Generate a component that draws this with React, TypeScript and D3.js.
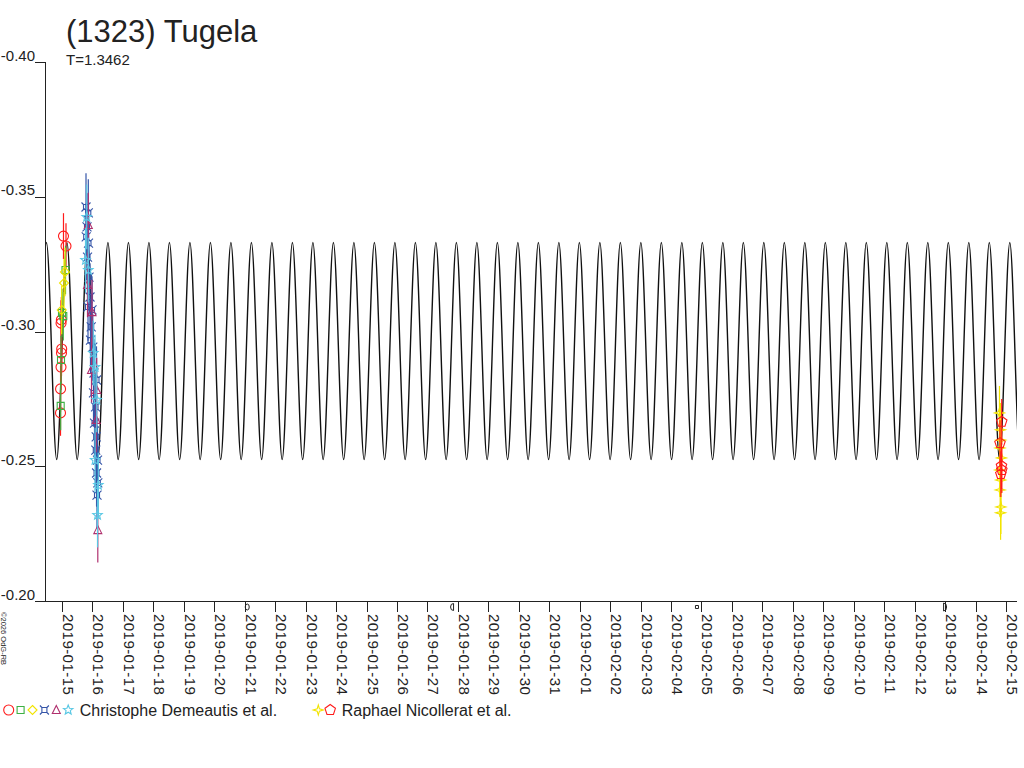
import React, { useEffect, useRef } from 'react';
import * as d3 from 'd3';

type Obs = [string, number];

const TITLE = "(1323) Tugela";
const PERIOD_LABEL = "T=1.3462";
const COPYRIGHT = "©2026 OdG-RB";

// model lightcurve: period from the label (double-peaked), levels and phase
const PERIOD_DAYS = 1.3462;
const MODEL_EPOCH = "2019-01-14 19:49"; // a faint extremum
const MODEL_FAINT = -0.2525;
const MODEL_BRIGHT = -0.3330;
const MODEL_START = "2019-01-14 11:23";
const MODEL_END = "2019-02-15 08:43";

const X_FIRST_DAY = "2019-01-15 00:00";
const X_LAST_DAY = "2019-02-15 00:00";
const Y_TICKS = [-0.40, -0.35, -0.30, -0.25, -0.20];

const MOON_PHASES = [
  { date: "2019-01-21 02:00", phase: "full" },
  { date: "2019-01-27 19:25", phase: "last" },
  { date: "2019-02-04 20:26", phase: "new" },
  { date: "2019-02-13 00:00", phase: "first" },
];

// Christophe Demeautis et al.
const DEM_CIRCLE: Obs[] = [
  ["2019-01-14 22:49", -0.2698], ["2019-01-14 22:52", -0.2787], ["2019-01-14 23:13", -0.2868],
  ["2019-01-14 23:36", -0.2920], ["2019-01-14 23:46", -0.2935], ["2019-01-14 23:15", -0.3031],
  ["2019-01-14 23:29", -0.3043], ["2019-01-15 01:10", -0.3354], ["2019-01-15 03:09", -0.3317],
];
const DEM_SQUARE: Obs[] = [
  ["2019-01-14 22:58", -0.2724], ["2019-01-14 23:13", -0.2894], ["2019-01-15 00:00", -0.3069],
  ["2019-01-15 01:01", -0.3057], ["2019-01-15 02:46", -0.3228],
];
const DEM_DIAMOND: Obs[] = [
  ["2019-01-14 23:46", -0.3080], ["2019-01-15 01:35", -0.3180], ["2019-01-15 02:22", -0.3221],
];
const DEM_XSQUARE: Obs[] = [
  ["2019-01-15 18:55", -0.3462], ["2019-01-15 20:44", -0.3440], ["2019-01-15 19:42", -0.3388],
  ["2019-01-15 19:04", -0.3351], ["2019-01-15 20:53", -0.3328], ["2019-01-15 20:06", -0.3276],
  ["2019-01-15 21:17", -0.3202], ["2019-01-15 22:04", -0.3128], ["2019-01-15 20:30", -0.3091],
  ["2019-01-15 23:39", -0.3080], ["2019-01-15 23:01", -0.3017], ["2019-01-15 22:28", -0.2968],
  ["2019-01-16 00:16", -0.2942], ["2019-01-16 01:13", -0.2846], ["2019-01-16 03:11", -0.2820],
  ["2019-01-16 00:50", -0.2772], ["2019-01-16 02:25", -0.2720], ["2019-01-16 01:37", -0.2660],
  ["2019-01-16 02:57", -0.2609], ["2019-01-16 02:38", -0.2560], ["2019-01-16 03:59", -0.2523],
  ["2019-01-16 03:14", -0.2475], ["2019-01-16 04:13", -0.2438], ["2019-01-16 03:35", -0.2393],
];
const DEM_TRIANGLE: Obs[] = [
  ["2019-01-15 20:44", -0.3395], ["2019-01-15 20:06", -0.3173], ["2019-01-15 23:39", -0.3072],
  ["2019-01-15 23:15", -0.2857], ["2019-01-16 03:21", -0.2783], ["2019-01-16 02:57", -0.2672],
  ["2019-01-16 04:13", -0.2263],
];
const DEM_STAR: Obs[] = [
  ["2019-01-15 19:28", -0.3425], ["2019-01-15 18:31", -0.3265], ["2019-01-15 20:44", -0.3228],
  ["2019-01-16 00:40", -0.2920], ["2019-01-16 02:01", -0.2868], ["2019-01-16 03:21", -0.2746],
  ["2019-01-16 02:05", -0.2523], ["2019-01-16 04:37", -0.2430], ["2019-01-16 03:59", -0.2319],
];

// Raphael Nicollerat et al.
const NIC_STAR4: Obs[] = [
  ["2019-02-14 18:52", -0.2698], ["2019-02-14 19:39", -0.2635], ["2019-02-14 19:53", -0.2597],
  ["2019-02-14 19:16", -0.2568], ["2019-02-14 20:26", -0.2531], ["2019-02-14 19:07", -0.2486],
  ["2019-02-14 19:49", -0.2449], ["2019-02-14 19:25", -0.2412], ["2019-02-14 19:58", -0.2349],
  ["2019-02-14 19:44", -0.2327],
];
const NIC_PENTAGON: Obs[] = [
  ["2019-02-14 20:38", -0.2665], ["2019-02-14 19:16", -0.2586], ["2019-02-14 20:26", -0.2501],
  ["2019-02-14 20:42", -0.2486], ["2019-02-14 19:55", -0.2471],
];

const RED = "#ff1a1a";
const GREEN = "#3cb043";
const YELLOW = "#f2e400";
const BLUE = "#3555a8";
const MAGENTA = "#b0306e";
const CYAN = "#5ac8e4";

const SERIES = [
  { data: DEM_CIRCLE, symbol: "circle", color: RED, err: 0.0085 },
  { data: DEM_SQUARE, symbol: "square", color: GREEN, err: 0.009 },
  { data: DEM_DIAMOND, symbol: "diamond", color: YELLOW, err: 0.009 },
  { data: DEM_XSQUARE, symbol: "xsquare", color: BLUE, err: 0.0125 },
  { data: DEM_TRIANGLE, symbol: "triangle", color: MAGENTA, err: 0.012 },
  { data: DEM_STAR, symbol: "star", color: CYAN, err: 0.012 },
  { data: NIC_STAR4, symbol: "star4", color: YELLOW, err: 0.01 },
  { data: NIC_PENTAGON, symbol: "pentagon", color: RED, err: 0.0085 },
];

const LEGEND = [
  { label: "Christophe Demeautis et al.", symbols: ["circle", "square", "diamond", "xsquare", "triangle", "star"], colors: [RED, GREEN, YELLOW, BLUE, MAGENTA, CYAN] },
  { label: "Raphael Nicollerat et al.", symbols: ["star4", "pentagon"], colors: [YELLOW, RED] },
];

const FONT = "'Liberation Sans', Arial, sans-serif";

const polygon = (n: number, rOut: number, rIn?: number) => {
  const pts: string[] = [];
  const count = rIn ? n * 2 : n;
  for (let i = 0; i < count; i++) {
    const r = rIn && i % 2 === 1 ? rIn : rOut;
    const a = -Math.PI / 2 + (i * 2 * Math.PI) / count;
    pts.push(`${(r * Math.cos(a)).toFixed(2)},${(r * Math.sin(a)).toFixed(2)}`);
  }
  return `M${pts.join("L")}Z`;
};

const symbolPath = (kind: string): string => {
  switch (kind) {
    case "circle": return "M5,0A5,5 0 1,1 -5,0A5,5 0 1,1 5,0Z";
    case "square": return "M-3.5,-3.5H3.5V3.5H-3.5Z";
    case "diamond": return "M0,-4.5L4.5,0L0,4.5L-4.5,0Z";
    case "xsquare": return "M-2.5,-2.5H2.5V2.5H-2.5Z M-2.5,-2.5L-4.5,-4.5 M2.5,-2.5L4.5,-4.5 M2.5,2.5L4.5,4.5 M-2.5,2.5L-4.5,4.5";
    case "triangle": return "M0,-4.5L4,3.5L-4,3.5Z";
    case "star": return polygon(5, 5, 2.2);
    case "star4": return polygon(4, 5, 1.6);
    case "pentagon": return polygon(5, 5.5);
    default: return "";
  }
};

const moonPath = (phase: string): string => {
  switch (phase) {
    case "full": return "M2,0A2,3 0 1,1 -2,0A2,3 0 1,1 2,0Z";
    case "new": return "M-1.5,-1.5H1.5V1.5H-1.5Z";
    case "last": return "M1.5,-3.5V3.5A3,3.5 0 0,1 1.5,-3.5Z";
    case "first": return "M-1.5,-4V4A3,4 0 0,0 -1.5,-4Z";
    default: return "";
  }
};

const App: React.FC = () => {
  const svgRef = useRef<SVGSVGElement>(null);

  useEffect(() => {
    if (!svgRef.current) return;
    const svg = d3.select(svgRef.current);
    svg.selectAll("*").remove();

    const parse = d3.utcParse("%Y-%m-%d %H:%M");
    const t = (s: string) => parse(s) as Date;

    const x = d3.scaleUtc().domain([t(X_FIRST_DAY), t(X_LAST_DAY)]).range([62, 1006]);
    const y = d3.scaleLinear().domain([-0.40, -0.20]).range([62, 601]);
    const axisLeft = 45;
    const axisY = 601;

    svg.append("rect").attr("width", 1024).attr("height", 768).attr("fill", "#fff");

    // title
    svg.append("text").attr("x", 66).attr("y", 42).attr("font-family", FONT)
      .attr("font-size", 31).attr("fill", "#222").text(TITLE);
    svg.append("text").attr("x", 66).attr("y", 65).attr("font-family", FONT)
      .attr("font-size", 15).attr("fill", "#222").text(PERIOD_LABEL);

    // model curve through alternating extrema (two maxima per rotation)
    const epoch = +t(MODEL_EPOCH);
    const quarter = (PERIOD_DAYS / 4) * 864e5;
    const start = t(MODEL_START), end = t(MODEL_END);
    const k0 = Math.floor((+start - epoch) / quarter) - 1;
    const k1 = Math.ceil((+end - epoch) / quarter) + 1;
    const extrema: [Date, number][] = d3.range(k0, k1 + 1).map(k => [
      new Date(epoch + k * quarter), Math.abs(k) % 2 === 0 ? MODEL_FAINT : MODEL_BRIGHT,
    ]);
    svg.append("clipPath").attr("id", "modelClip").append("rect")
      .attr("x", x(start)).attr("y", 0).attr("width", x(end) - x(start)).attr("height", 768);
    const line = d3.line<[Date, number]>().x(d => x(d[0])).y(d => y(d[1])).curve(d3.curveMonotoneX);
    svg.append("path").attr("d", line(extrema) as string).attr("clip-path", "url(#modelClip)")
      .attr("fill", "none").attr("stroke", "#111").attr("stroke-width", 1.4);

    // axes
    const yAxisG = svg.append("g").attr("transform", `translate(${axisLeft},0)`)
      .call(d3.axisLeft(y).tickValues(Y_TICKS).tickSize(10).tickFormat(d => (+d).toFixed(2)));
    yAxisG.select(".domain").remove();
    yAxisG.attr("font-family", FONT).attr("font-size", 15).attr("color", "#222");
    yAxisG.selectAll(".tick line").attr("shape-rendering", "crispEdges");
    yAxisG.selectAll(".tick text").attr("x", -10).attr("y", -2).attr("dy", 0);

    const xAxisG = svg.append("g").attr("transform", `translate(0,${axisY})`)
      .call(d3.axisBottom(x)
        .tickValues(d3.utcDay.range(t(X_FIRST_DAY), d3.utcDay.offset(t(X_LAST_DAY), 1)))
        .tickSize(11).tickSizeOuter(0)
        .tickFormat(d => d3.utcFormat("%Y-%m-%d")(d as Date)));
    xAxisG.select(".domain").remove();
    xAxisG.attr("font-family", FONT).attr("font-size", 15).attr("color", "#222");
    xAxisG.selectAll(".tick line").attr("shape-rendering", "crispEdges");
    xAxisG.selectAll(".tick text")
      .attr("transform", "rotate(90)").attr("text-anchor", "start")
      .attr("x", 13).attr("y", -0.5).attr("dy", 0).attr("letter-spacing", 0.45);

    svg.append("line").attr("x1", axisLeft + 0.5).attr("x2", axisLeft + 0.5)
      .attr("y1", y(-0.40)).attr("y2", axisY + 0.5).attr("stroke", "#222");
    svg.append("line").attr("x1", axisLeft).attr("x2", 1017)
      .attr("y1", axisY + 0.5).attr("y2", axisY + 0.5).attr("stroke", "#222");

    // moon phases on the axis
    svg.append("g").selectAll("path").data(MOON_PHASES).join("path")
      .attr("transform", d => `translate(${x(t(d.date))},${axisY + 6})`)
      .attr("d", d => moonPath(d.phase))
      .attr("fill", "none").attr("stroke", "#222").attr("stroke-width", 1);

    // observations: error bars then symbols
    const obs = svg.append("g");
    SERIES.forEach(s => {
      const g = obs.append("g");
      g.selectAll("line").data(s.data).join("line")
        .attr("x1", d => x(t(d[0]))).attr("x2", d => x(t(d[0])))
        .attr("y1", d => y(d[1] - s.err)).attr("y2", d => y(d[1] + s.err))
        .attr("stroke", s.color).attr("stroke-width", 1.2);
      g.selectAll("path").data(s.data).join("path")
        .attr("transform", d => `translate(${x(t(d[0]))},${y(d[1])})`)
        .attr("d", symbolPath(s.symbol))
        .attr("fill", "none").attr("stroke", s.color).attr("stroke-width", 1.1);
    });

    // legend
    const legendStarts = [8.7, 318.3];
    LEGEND.forEach((item, i) => {
      const g = svg.append("g");
      item.symbols.forEach((sym, j) => {
        g.append("path").attr("transform", `translate(${legendStarts[i] + j * 11.9},710)`)
          .attr("d", symbolPath(sym)).attr("fill", "none")
          .attr("stroke", item.colors[j]).attr("stroke-width", 1.1);
      });
      g.append("text")
        .attr("x", legendStarts[i] + (item.symbols.length - 1) * 11.9 + 11.5)
        .attr("y", 716).attr("font-family", FONT).attr("font-size", 16).attr("fill", "#222")
        .text(item.label);
    });

    // copyright
    svg.append("text").attr("transform", "translate(1,612) rotate(90)")
      .attr("font-family", FONT).attr("font-size", 7.5).attr("fill", "#222").text(COPYRIGHT);
  }, []);

  return (
    <svg ref={svgRef} width={1024} height={768}
      style={{ position: 'absolute', left: 0, top: 0, background: '#fff' }} />
  );
};

export default App;
